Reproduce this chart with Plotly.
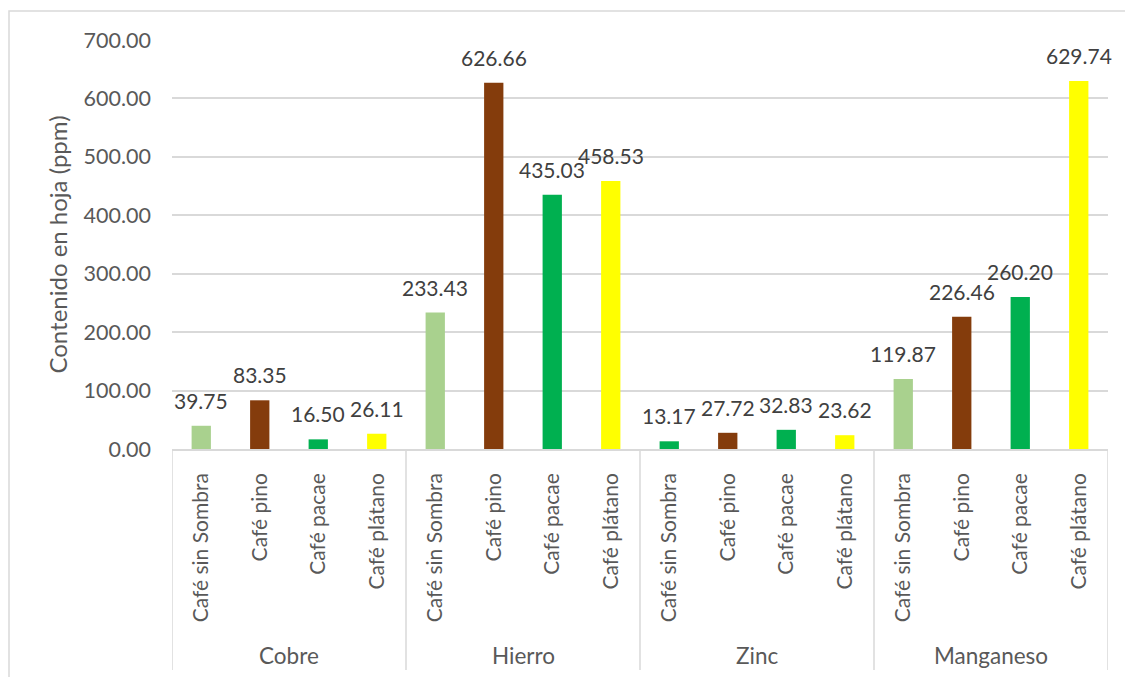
import plotly.graph_objects as go

# Leaf micronutrient content by shade system
elements = ["Cobre", "Hierro", "Zinc", "Manganeso"]
systems = ["Café sin Sombra", "Café pino", "Café pacae", "Café plátano"]

cobre = [39.75, 83.35, 16.50, 26.11]
hierro = [233.43, 626.66, 435.03, 458.53]
zinc = [13.17, 27.72, 32.83, 23.62]
manganeso = [119.87, 226.46, 260.20, 629.74]

cobre_colors = ["#A9D18E", "#843C0C", "#00B050", "#FFFF00"]
hierro_colors = ["#A9D18E", "#843C0C", "#00B050", "#FFFF00"]
zinc_colors = ["#00B050", "#843C0C", "#00B050", "#FFFF00"]
manganeso_colors = ["#A9D18E", "#843C0C", "#00B050", "#FFFF00"]

values = cobre + hierro + zinc + manganeso
colors = cobre_colors + hierro_colors + zinc_colors + manganeso_colors
labels = systems * len(elements)
xpos = list(range(len(values)))

FONT = "Lato, 'Open Sans', sans-serif"
GRID = "#D9D9D9"
TXT = "#595959"

fig = go.Figure(
    go.Bar(
        x=xpos,
        y=values,
        width=0.33,
        marker=dict(color=colors, line=dict(width=0)),
        hoverinfo="skip",
    )
)

# value labels above each bar
annotations = []
for xi, v in zip(xpos, values):
    annotations.append(dict(
        x=xi, y=v, xref="x", yref="y", text=f"{v:.2f}", showarrow=False,
        yanchor="bottom", yshift=11,
        font=dict(family=FONT, size=21, color="#404040"),
    ))

plot_top, plot_bottom = 40, 449
plot_h = plot_bottom - plot_top
plot_left, plot_right = 172, 1108
plot_w = plot_right - plot_left

# group names under the rotated category labels
n = len(systems)
for gi, name in enumerate(elements):
    annotations.append(dict(
        x=gi * n + (n - 1) / 2, y=-(656 - plot_bottom) / plot_h,
        xref="x", yref="paper", text=name, showarrow=False,
        yanchor="middle", font=dict(family=FONT, size=22.5, color=TXT),
    ))

# group dividers below the axis
shapes = []
for gi in range(len(elements) + 1):
    xd = gi * n - 0.5
    shapes.append(dict(
        type="line", xref="x", yref="paper", x0=xd, x1=xd,
        y0=0, y1=-(670 - plot_bottom) / plot_h,
        line=dict(color=GRID, width=1.5),
    ))

# chart frame
shapes.append(dict(
    type="rect", xref="paper", yref="paper",
    x0=(9 - plot_left) / plot_w, x1=(1140 - plot_left) / plot_w,
    y0=-(700 - plot_bottom) / plot_h, y1=(plot_bottom - 11) / plot_h,
    line=dict(color=GRID, width=1.5), fillcolor="rgba(0,0,0,0)", layer="below",
))

fig.update_layout(
    width=1125, height=677,
    margin=dict(l=plot_left, r=1125 - plot_right, t=plot_top, b=677 - plot_bottom),
    paper_bgcolor="white", plot_bgcolor="white",
    showlegend=False,
    annotations=annotations,
    shapes=shapes,
    xaxis=dict(
        tickmode="array", tickvals=xpos, ticktext=labels, tickangle=-90,
        range=[-0.5, len(values) - 0.5],
        showgrid=False, zeroline=False,
        showline=True, linecolor=GRID, linewidth=1.5,
        ticks="", ticklabelstandoff=14,
        tickfont=dict(family=FONT, size=21, color=TXT),
    ),
    yaxis=dict(
        range=[0, 700], dtick=100, tickformat=".2f",
        showgrid=True, gridcolor=GRID, gridwidth=1.5,
        zeroline=False, showline=False, ticks="",
        ticklabelstandoff=20,
        tickfont=dict(family=FONT, size=21.5, color=TXT),
        title=dict(text="Contenido en hoja (ppm)", standoff=9,
                   font=dict(family=FONT, size=24, color=TXT)),
    ),
)

fig.write_html("out.html")
